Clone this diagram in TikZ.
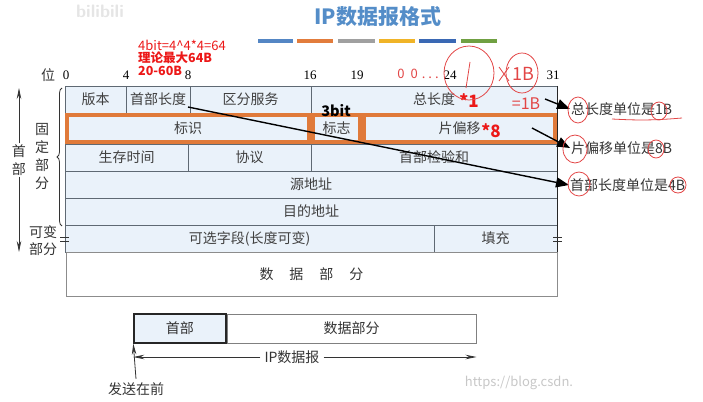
\documentclass[tikz,border=0pt]{standalone}
\usepackage{fontspec}
\setmainfont{Liberation Serif}
\newfontfamily\cjk{Noto Sans CJK SC}
\usetikzlibrary{arrows.meta}
\usetikzlibrary{decorations.pathreplacing}
\usetikzlibrary{positioning}
\definecolor{cellfill}{RGB}{234,242,250}
\definecolor{cellline}{RGB}{95,105,115}
\definecolor{hiorange}{RGB}{224,122,58}
\definecolor{titleblue}{RGB}{84,141,200}
\definecolor{barblue}{RGB}{84,134,196}
\definecolor{barorange}{RGB}{226,124,60}
\definecolor{bargray}{RGB}{160,160,160}
\definecolor{baryellow}{RGB}{240,180,40}
\definecolor{bardblue}{RGB}{58,104,180}
\definecolor{bargreen}{RGB}{112,160,66}
\definecolor{penred}{RGB}{226,70,70}
\definecolor{markred}{RGB}{236,24,24}

\begin{document}
\begin{tikzpicture}[x=1pt, y=-1pt, >={Stealth[length=11pt,width=4.5pt]},
		field/.style={draw=cellline, fill=cellfill, line width=0.8pt, inner sep=0pt, outer sep=0pt, text=black!75, font=\cjk\fontsize{14}{16}\selectfont},
		hibox/.style={draw=hiorange, line width=3.5pt},
		bitno/.style={font=\fontsize{13}{15}\selectfont},
		side/.style={font=\cjk\fontsize{14}{18}\selectfont, align=center, inner sep=1pt, text=black!80},
		redtag/.style={text=markred, font=\cjk\bfseries\fontsize{17}{19}\selectfont},
		note/.style={anchor=west, inner sep=1pt, font=\cjk\fontsize{14}{16}\selectfont, text=black!80},
		redline/.style={anchor=west, inner sep=0pt, text=markred, font=\cjk\fontsize{12.5}{14}\selectfont},
		pen/.style={penred, line width=0.8pt},
		pentext/.style={text=penred, inner sep=0pt, font=\cjk\fontsize{18}{20}\selectfont},
		bigarrow/.style={line width=1.4pt, -{Triangle[length=13pt,width=10pt]}},
		bar/.style={line width=4pt},
		thin/.style={black!80, line width=0.8pt}]
				\useasboundingbox (0,0) rectangle (703,401);
				
				\path 
				(19,88) coordinate (htop)
				(19,252) coordinate (hbot)
				(62,226) coordinate (bracelow)
				(62,88) coordinate (bracehigh)
				(545,99) coordinate (fromtlen)
				(532,128) coordinate (fromfrag)
				(188,107) coordinate (fromhlen)
				;
				
				% title
				\node[text=titleblue, font=\cjk\bfseries\fontsize{21}{24}\selectfont] (title) at (378,17) {IP数据报格式};
				\draw[bar, barblue] (258,41) -- (293,41);
				\draw[bar, barorange] (297,41) -- (333,41);
				\draw[bar, bargray] (338,41) -- (375,41);
				\draw[bar, baryellow] (379,41) -- (415,41);
				\draw[bar, bardblue] (419,41) -- (456,41);
				\draw[bar, bargreen] (461,41) -- (497,41);
				
				\node[text=black!10, font=\sffamily\bfseries\fontsize{18}{18}\selectfont] (bili) at (100,11) {bilibili};
				
				\node[redline, font=\cjk\fontsize{13}{14}\selectfont] (calc) at (138,45) {4bit=4\^{}4*4=64};
				\node[redline, font=\cjk\bfseries\fontsize{12.5}{14}\selectfont] (max) at (138,58) {理论最大64B};
				\node[redline, font=\cjk\bfseries\fontsize{12.5}{14}\selectfont] (range) at (138,71) {20-60B};
				
				% bit positions
				\node[side] (wei) at (48,75) {位};
				\node[bitno] (b0) at (66,75) {0};
				\node[bitno] (b4) at (126,75) {4};
				\node[bitno] (b8) at (188,75) {8};
				\node[bitno] (b16) at (310,75) {16};
				\node[bitno] (b19) at (357,75) {19};
				\node[bitno] (b24) at (450,75) {24};
				\node[bitno] (b31) at (553,75) {31};
				
				% header fields
				\node[field, minimum width=61pt, minimum height=27pt] (ver) at (95.5,99.5) {版本};
				\node[field, minimum width=64pt, minimum height=27pt] (hlen) at (158,99.5) {首部长度};
				\node[field, minimum width=121pt, minimum height=27pt] (tos) at (250.5,99.5) {区分服务};
				\node[field, minimum width=246pt, minimum height=27pt] (tlen) at (434,99.5) {总长度};
				
				\node[field, minimum width=246pt, minimum height=31pt] (ident) at (188,128.5) {标识};
				\node[field, minimum width=51pt, minimum height=31pt] (flag) at (336.5,128.5) {标志};
				\node[field, minimum width=195pt, minimum height=31pt] (frag) at (459.5,128.5) {片偏移};
				
				\node[field, minimum width=123pt, minimum height=27pt] (ttl) at (126.5,157.5) {生存时间};
				\node[field, minimum width=123pt, minimum height=27pt] (proto) at (249.5,157.5) {协议};
				\node[field, minimum width=246pt, minimum height=27pt] (chk) at (434,157.5) {首部检验和};
				
				\node[field, minimum width=492pt, minimum height=27pt] (src) at (311,184.5) {源地址};
				\node[field, minimum width=492pt, minimum height=27pt] (dst) at (311,211.5) {目的地址};
				
				\node[field, minimum width=369pt, minimum height=27pt] (opt) at (249.5,238.5) {可选字段(长度可变)};
				\node[field, minimum width=123pt, minimum height=27pt] (pad) at (495.5,238.5) {填充};
				
				\node[draw=black!45, line width=1pt, minimum width=491pt, minimum height=44pt, inner sep=0pt, text=black!80, font=\cjk\fontsize{14}{16}\selectfont] (data) at (311.5,274) {数\hspace{16pt}据\hspace{16pt}部\hspace{16pt}分};
				
				\draw[black!85, line width=1pt] (tlen.north east) -- (pad.south east);
				
				% orange marks on the second row
				\draw[hibox] ([shift={(2,2)}]ident.north west) rectangle ([shift={(-2,-2)}]ident.south east);
				\draw[hibox] ([shift={(2,2)}]flag.north west) rectangle ([shift={(-2,-2)}]flag.south east);
				\draw[hibox] ([shift={(2,2)}]frag.north west) rectangle ([shift={(-2,-2)}]frag.south east);
				
				\node[redtag] (x1) at (469,101) {*1};
				\node[redtag] (x8) at (491,131) {*8};
				\node[font=\cjk\bfseries\fontsize{14.5}{16}\selectfont] (three) at (336,111) {3bit};
				
				% left side
				\draw[decorate, decoration={brace, amplitude=5pt}, thin] (bracelow) -- (bracehigh);
				\node[side] (fixed) at (42,157) {固\\定\\部\\分};
				\node[side, font=\cjk\fontsize{14}{17}\selectfont] (var) at (43,240.5) {可变\\部分};
				\node[side] (hdrside) at (19,160) {首\\部};
				\draw[->, thin] (hdrside.north) -- (htop);
				\draw[->, thin] (hdrside.south) -- (hbot);
				\draw[thin] (60,237) -- (69,237) (60,241) -- (69,241);
				\draw[thin] (553,237) -- (562,237) (553,241) -- (562,241);
				
				% units on the right
				\node[note] (unit1) at (570,109) {总长度单位是1B};
				\node[note] (unit8) at (570,148) {片偏移单位是8B};
				\node[note] (unit4) at (569,185) {首部长度单位是4B};
				
				\draw[bigarrow] (fromtlen) -- (unit1.west);
				\draw[bigarrow] (fromfrag) -- (unit8.west);
				\draw[bigarrow] (fromhlen) -- (unit4.west);
				
				% pen marks
				\node[pentext, font=\cjk\fontsize{13}{14}\selectfont] (zeros) at (418,74) {0\hspace{6pt}0\hspace{4pt}.\hspace{3pt}.\hspace{3pt}.};
				\draw[pen] (469,73) ellipse [x radius=25pt, y radius=27pt];
				\draw[pen] (470,62) -- (466,88);
				\draw[pen] (499,67) -- (509,81) (509,67) -- (499,81);
				\draw[pen] (522,73) ellipse [x radius=16pt, y radius=20pt];
				\node[pentext] (oneb) at (523,74) {1B};
				\node[pentext, font=\cjk\fontsize{16}{18}\selectfont] (eqoneb) at (526,104) {=1B};
				\draw[pen] (578,110) ellipse [x radius=10pt, y radius=13pt];
				\draw[pen] (659,111) ellipse [x radius=8pt, y radius=9pt];
				\draw[pen] (612,119) to[bend right=4] (682,118);
				\draw[pen] (575,149) ellipse [x radius=12pt, y radius=14pt];
				\draw[pen] (656,149) ellipse [x radius=8pt, y radius=9pt];
				\draw[pen] (579,184) ellipse [x radius=11pt, y radius=12pt];
				\draw[pen] (678,185) ellipse [x radius=8pt, y radius=8pt];
				
				% datagram
				\node[draw=black!50, line width=1pt, minimum width=249pt, minimum height=29pt, inner sep=0pt, text=black!80, font=\cjk\fontsize{14}{16}\selectfont] (payload) at (351.5,328.5) {数据部分};
				\node[draw=black!85, fill=cellfill, line width=1.2pt, minimum width=92pt, minimum height=29pt, inner sep=0pt, text=black!80, font=\cjk\fontsize{14}{16}\selectfont, left=0pt of payload] (hdr) {首部};
				\node[fill=white, inner sep=4pt, text=black!80, font=\cjk\fontsize{14}{16}\selectfont] (ipd) at (292,357) {IP数据报};
				\draw[->, thin] (ipd.west) -- (ipd.west -| hdr.west);
				\draw[->, thin] (ipd.east) -- (ipd.east -| payload.east);
				\node[text=black!80, font=\cjk\fontsize{14}{16}\selectfont] (first) at (136,389) {发送在前};
				\draw[->, thin] (first.north) -- (hdr.south west);
				
				\node[text=black!22, font=\cjk\fontsize{13}{15}\selectfont] (csdn) at (519,383) {https://blog.csdn.};
				
\end{tikzpicture}
\end{document}
